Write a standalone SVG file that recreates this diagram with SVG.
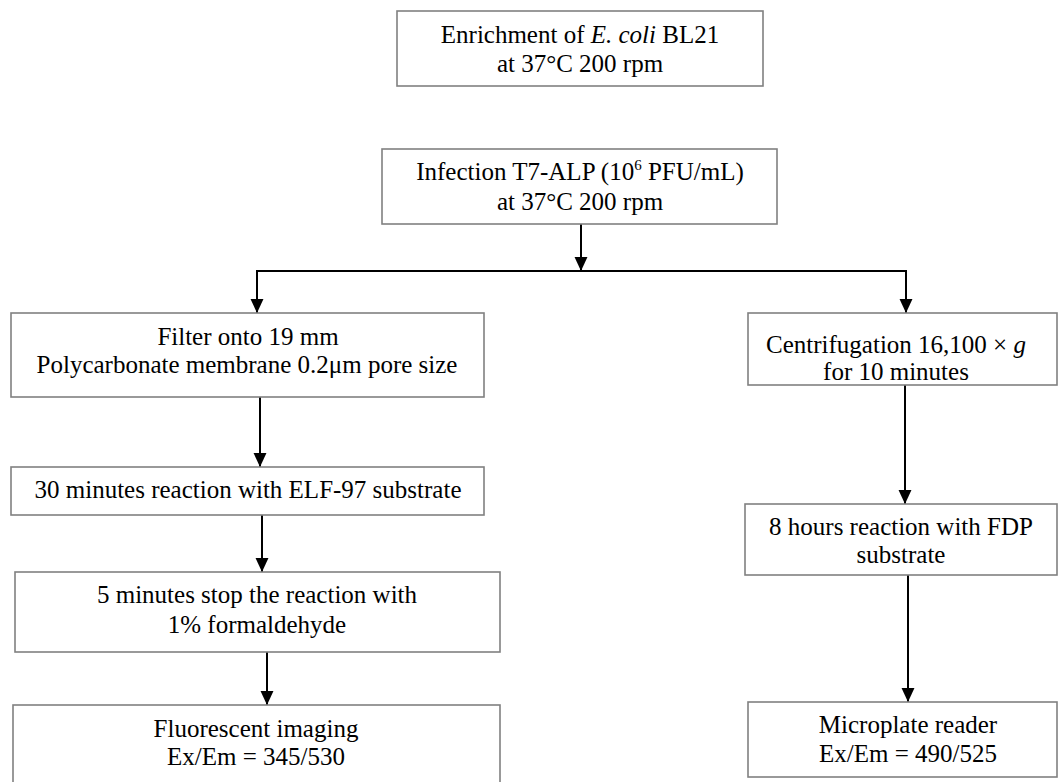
<svg xmlns="http://www.w3.org/2000/svg" width="1059" height="782" viewBox="0 0 1059 782">
<style>
.box{fill:#fff;stroke:#808080;stroke-width:1.6}
.t{font-family:'Liberation Serif','DejaVu Serif',serif;font-size:25px;fill:#000;text-anchor:middle}
.c{stroke:#000;stroke-width:2;fill:none}
</style>
<defs>
<marker id="ah" markerUnits="userSpaceOnUse" markerWidth="14" markerHeight="14" viewBox="0 0 13 12" refX="13" refY="6" orient="auto">
<path d="M0,0 L13,6 L0,12 Z" fill="#000"/>
</marker>
</defs>
<rect width="1059" height="782" fill="#fff"/>
<g id="connectors">
<line class="c" x1="581" y1="224" x2="581" y2="271" marker-end="url(#ah)"/>
<line class="c" x1="256" y1="271" x2="907" y2="271"/>
<line class="c" x1="257" y1="271" x2="257" y2="313" marker-end="url(#ah)"/>
<line class="c" x1="906" y1="271" x2="906" y2="313" marker-end="url(#ah)"/>
<line class="c" x1="260" y1="397" x2="260" y2="467" marker-end="url(#ah)"/>
<line class="c" x1="262" y1="515" x2="262" y2="572" marker-end="url(#ah)"/>
<line class="c" x1="267" y1="652" x2="267" y2="705" marker-end="url(#ah)"/>
<line class="c" x1="905" y1="385" x2="905" y2="504" marker-end="url(#ah)"/>
<line class="c" x1="908" y1="575" x2="908" y2="702" marker-end="url(#ah)"/>
</g>
<g id="n1">
<rect class="box" x="397" y="11" width="366" height="75"/>
<text class="t" x="580" y="43">Enrichment of <tspan font-style="italic">E. coli</tspan> BL21</text>
<text class="t" x="580" y="72">at 37°C 200 rpm</text>
</g>
<g id="n2">
<rect class="box" x="382" y="149" width="395" height="75"/>
<text class="t" x="580" y="180">Infection T7-ALP (10<tspan font-size="15" dy="-10">6</tspan><tspan dy="10"> PFU/mL)</tspan></text>
<text class="t" x="580" y="210">at 37°C 200 rpm</text>
</g>
<g id="n3">
<rect class="box" x="11" y="313" width="473" height="84"/>
<text class="t" x="248" y="345">Filter onto 19 mm</text>
<text class="t" x="247" y="373">Polycarbonate membrane 0.2μm pore size</text>
</g>
<g id="n4">
<rect class="box" x="11" y="467" width="473" height="48"/>
<text class="t" x="248" y="498">30 minutes reaction with ELF-97 substrate</text>
</g>
<g id="n5">
<rect class="box" x="15" y="572" width="485" height="80"/>
<text class="t" x="257" y="603">5 minutes stop the reaction with</text>
<text class="t" x="257" y="633">1% formaldehyde</text>
</g>
<g id="n6">
<rect class="box" x="13" y="705" width="487" height="90"/>
<text class="t" x="256" y="737">Fluorescent imaging</text>
<text class="t" x="256" y="765">Ex/Em = 345/530</text>
</g>
<g id="n7">
<rect class="box" x="748" y="313" width="309" height="72"/>
<text class="t" x="896" y="353">Centrifugation 16,100 × <tspan font-style="italic">g</tspan></text>
<text class="t" x="896" y="380">for 10 minutes</text>
</g>
<g id="n8">
<rect class="box" x="745" y="504" width="312" height="71"/>
<text class="t" x="901" y="535">8 hours reaction with FDP</text>
<text class="t" x="901" y="563">substrate</text>
</g>
<g id="n9">
<rect class="box" x="748" y="702" width="309" height="75"/>
<text class="t" x="908" y="733">Microplate reader</text>
<text class="t" x="908" y="762">Ex/Em = 490/525</text>
</g>
</svg>
